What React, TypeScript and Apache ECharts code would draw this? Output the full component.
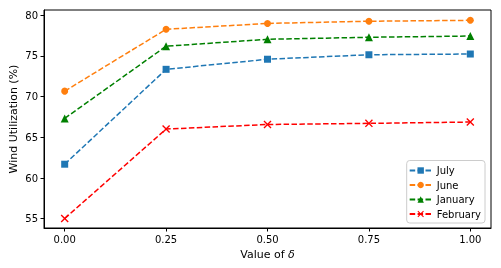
import React, { useEffect, useRef } from "react";
import * as echarts from "echarts";

const deltas = [0, 0.25, 0.5, 0.75, 1.0];
const july = [61.7, 73.36, 74.6, 75.15, 75.24];
const june = [70.68, 78.28, 79.0, 79.27, 79.38];
const january = [67.33, 76.2, 77.05, 77.3, 77.45];
const february = [55.03, 66.02, 66.58, 66.72, 66.88];
const xTicks = [0, 0.25, 0.5, 0.75, 1.0];
const yTicks = [55, 60, 65, 70, 75, 80];

const FONT = "DejaVu Sans";
const XPATH =
  "path://M0,1.2L1.2,0L5,3.8L8.8,0L10,1.2L6.2,5L10,8.8L8.8,10L5,6.2L1.2,10L0,8.8L3.8,5Z";

export default function App() {
  const ref = useRef<HTMLDivElement>(null);
  useEffect(() => {
    if (!ref.current) return;
    const chart = echarts.init(ref.current, undefined, { renderer: "svg" });
    const mk = (name: string, data: number[], color: string, symbol: string, size: number) => ({
      name,
      type: "line",
      data: deltas.map((d, i) => [d, data[i]]),
      symbol,
      symbolSize: size,
      showSymbol: true,
      lineStyle: { color, width: 1.5, type: [5.5, 2.4] },
      itemStyle: { color },
      z: 3,
    });
    chart.setOption({
      animation: false,
      textStyle: { fontFamily: FONT },
      grid: {
        left: 44,
        right: 10,
        top: 10,
        bottom: 40,
        show: true,
        borderColor: "#000",
        borderWidth: 1,
        backgroundColor: "transparent",
        containLabel: false,
        outerBoundsMode: "none",
      },
      xAxis: {
        type: "value",
        min: -0.051,
        max: 1.051,
        name: "Value of {i|δ}",
        nameLocation: "middle",
        nameGap: 21,
        nameMoveOverlap: false,
        nameTextStyle: {
          fontFamily: FONT,
          fontSize: 11,
          color: "#000",
          rich: { i: { fontFamily: FONT, fontSize: 11, fontStyle: "italic", color: "#000" } },
        },
        splitLine: { show: false },
        axisLine: { show: true, onZero: false, lineStyle: { color: "#000", width: 1 } },
        axisTick: { show: true, length: 3.5, inside: false, customValues: xTicks, lineStyle: { color: "#000" } },
        axisLabel: {
          customValues: xTicks,
          formatter: (v: number) => v.toFixed(2),
          fontFamily: FONT,
          fontSize: 10,
          color: "#000",
          margin: 6,
        },
      },
      yAxis: {
        type: "value",
        min: 53.86,
        max: 80.65,
        name: "Wind Utilization (%)",
        nameLocation: "middle",
        nameGap: 25,
        nameMoveOverlap: false,
        nameRotate: 90,
        nameTextStyle: { fontFamily: FONT, fontSize: 11, color: "#000" },
        splitLine: { show: false },
        axisLine: { show: true, onZero: false, lineStyle: { color: "#000", width: 1 } },
        axisTick: { show: true, length: 3.5, inside: false, customValues: yTicks, lineStyle: { color: "#000" } },
        axisLabel: {
          customValues: yTicks,
          formatter: (v: number) => String(Math.round(v)),
          fontFamily: FONT,
          fontSize: 10,
          color: "#000",
          margin: 6,
        },
      },
      legend: {
        orient: "vertical",
        right: 16,
        bottom: 45,
        itemWidth: 22,
        itemHeight: 8,
        itemGap: 4.5,
        padding: [5, 4, 4, 2],
        backgroundColor: "#fff",
        borderColor: "#ccc",
        borderWidth: 1,
        borderRadius: 3,
        textStyle: { fontFamily: FONT, fontSize: 10, color: "#000" },
        data: ["July", "June", "January", "February"],
      },
      series: [
        mk("July", july, "#1f77b4", "rect", 7),
        mk("June", june, "#ff7f0e", "circle", 7),
        mk("January", january, "#008000", "triangle", 8),
        mk("February", february, "#ff0000", XPATH, 8),
      ],
    });
    return () => chart.dispose();
  }, []);
  return (
    <div
      ref={ref}
      style={{ position: "fixed", left: 0, top: 0, width: 501, height: 268 }}
    />
  );
}
